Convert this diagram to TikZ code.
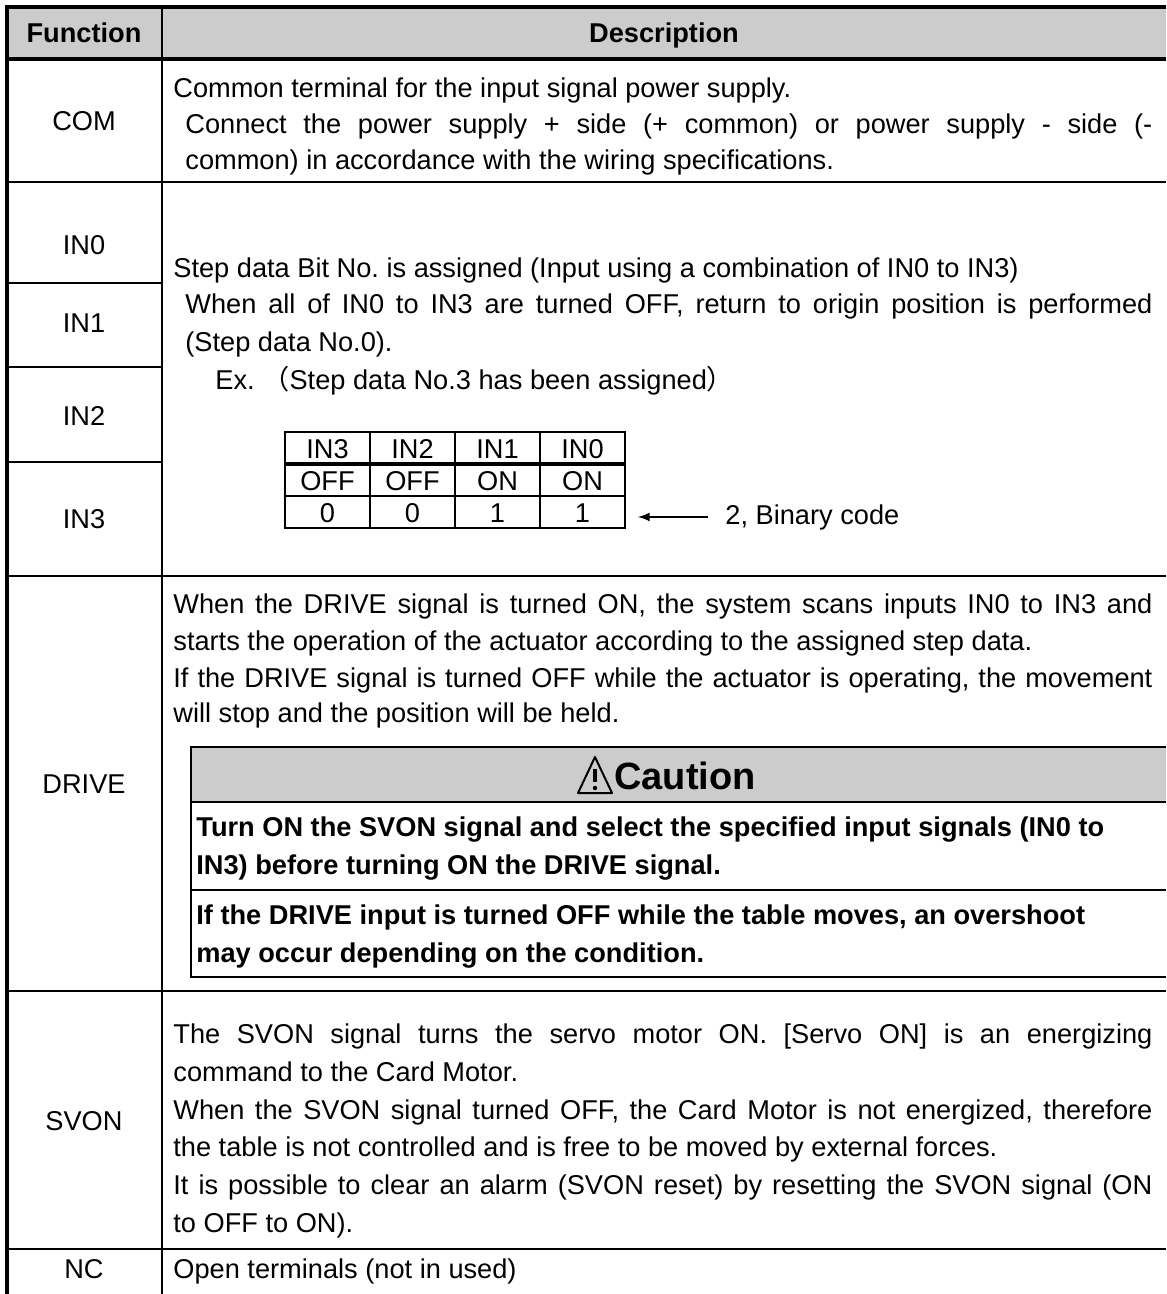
\documentclass[tikz,border=0pt]{standalone}
\usepackage{fontspec}
\setmainfont{Liberation Sans}
\newfontfamily\cjk{Noto Sans CJK JP}
\usepackage{tikz}
\usetikzlibrary{arrows}
\frenchspacing

\definecolor{hdgray}{RGB}{204,204,204}
\newlength{\fullw}\setlength{\fullw}{489.5pt}
\newlength{\indw}\setlength{\indw}{483.5pt}
\newcommand{\jline}[2]{\makebox[#1][s]{#2}}

\tikzset{
  txt/.style={anchor=base west, inner sep=0pt, font=\fontsize{13.6}{16}\selectfont},
  btxt/.style={anchor=base west, inner sep=0pt, font=\fontsize{13.6}{16}\selectfont\bfseries},
  lbl/.style={anchor=base, inner sep=0pt, font=\fontsize{13.6}{16}\selectfont},
  gridline/.style={line width=1pt},
  boldline/.style={line width=2pt}
}

\begin{document}
\begin{tikzpicture}[x=0.5pt,y=-0.5pt]
  \useasboundingbox (0,0) rectangle (1166,1294);

  % header row
  \fill[hdgray] (7,7) rectangle (1166,59);
  \node[lbl, font=\fontsize{13.6}{16}\selectfont\bfseries] (hfunc) at (84,43) {Function};
  \node[lbl, font=\fontsize{13.6}{16}\selectfont\bfseries] (hdesc) at (664,43) {Description};

  % caution box
  \fill[hdgray] (191,747) rectangle (1166,802);
  \draw[gridline] (1166,747) -- (191,747) -- (191,977) -- (1166,977);
  \draw[gridline] (191,802) -- (1166,802);
  \draw[gridline] (191,890) -- (1166,890);

  % table rules
  \draw[gridline] (162,7) -- (162,1294);
  \draw[gridline] (7,182) -- (1166,182);
  \draw[gridline] (7,283) -- (162,283);
  \draw[gridline] (7,367) -- (162,367);
  \draw[gridline] (7,462) -- (162,462);
  \draw[gridline] (7,576) -- (1166,576);
  \draw[gridline] (7,991) -- (1166,991);
  \draw[gridline] (7,1249) -- (1166,1249);
  \draw[boldline] (7,59) -- (1166,59);
  \draw[boldline] (5,7) -- (1166,7);
  \draw[boldline] (7,5) -- (7,1294);

  % function column
  \node[lbl] (com) at (84,131) {COM};
  \node[lbl] (inzero) at (84,255) {IN0};
  \node[lbl] (inone) at (84,333) {IN1};
  \node[lbl] (intwo) at (84,425) {IN2};
  \node[lbl] (inthree) at (84,528) {IN3};
  \node[lbl] (drive) at (84,793) {DRIVE};
  \node[lbl] (svon) at (84,1130) {SVON};
  \node[lbl] (nc) at (84,1278) {NC};

  % COM
  \node[txt] (comA) at (173,98) {Common terminal for the input signal power supply.};
  \node[txt] (comB) at (185,134) {\jline{\indw}{Connect the power supply + side (+ common) or power supply - side (-}};
  \node[txt] (comC) at (185,170) {common) in accordance with the wiring specifications.};

  % IN0 to IN3
  \node[txt] (stepA) at (173,278) {Step data Bit No. is assigned (Input using a combination of IN0 to IN3)};
  \node[txt] (stepB) at (185,314) {\jline{\indw}{When all of IN0 to IN3 are turned OFF, return to origin position is performed}};
  \node[txt] (stepC) at (185,351) {(Step data No.0).};
  \node[txt] (exA) at (215,389) {Ex.};
  \node[txt] (exB) at (262,389) {{\cjk （}Step data No.3 has been assigned{\cjk ）}};

  \draw[gridline] (285,432) rectangle (625,528);
  \draw[gridline] (370,432) -- (370,528);
  \draw[gridline] (455,432) -- (455,528);
  \draw[gridline] (540,432) -- (540,528);
  \draw[gridline] (285,496) -- (625,496);
  \draw[line width=1.6pt] (285,464) -- (625,464);

  \node[lbl] (bitA) at (327.5,458) {IN3};
  \node[lbl] (bitB) at (412.5,458) {IN2};
  \node[lbl] (bitC) at (497.5,458) {IN1};
  \node[lbl] (bitD) at (582.5,458) {IN0};
  \node[lbl] (stA) at (327.5,490) {OFF};
  \node[lbl] (stB) at (412.5,490) {OFF};
  \node[lbl] (stC) at (497.5,490) {ON};
  \node[lbl] (stD) at (582.5,490) {ON};
  \node[lbl] (valA) at (327.5,522) {0};
  \node[lbl] (valB) at (412.5,522) {0};
  \node[lbl] (valC) at (497.5,522) {1};
  \node[lbl] (valD) at (582.5,522) {1};

  \node[txt] (bincode) at (725,524) {2, Binary code};
  \coordinate (bintip) at (638,0);
  \draw[gridline,-latex] ([xshift=-8.5pt]bincode.west) -- (bintip |- bincode.west);

  % DRIVE
  \node[txt] (drA) at (173,613) {\jline{\fullw}{When the DRIVE signal is turned ON, the system scans inputs IN0 to IN3 and}};
  \node[txt] (drB) at (173,650) {starts the operation of the actuator according to the assigned step data.};
  \node[txt] (drC) at (173,687) {\jline{\fullw}{If the DRIVE signal is turned OFF while the actuator is operating, the movement}};
  \node[txt] (drD) at (173,722) {will stop and the position will be held.};

  \draw[gridline, line join=round] (578,793) -- (595,757) -- (612,793) -- cycle;
  \draw[line width=1.8pt] (595,769) -- (595,782);
  \fill (595,788) circle (1.1pt);
  \node[anchor=base west, inner sep=0pt, font=\fontsize{19}{22}\selectfont\bfseries] (caution) at (614,789) {Caution};

  \node[btxt] (cauA) at (196,836) {Turn ON the SVON signal and select the specified input signals (IN0 to};
  \node[btxt] (cauB) at (196,874) {IN3) before turning ON the DRIVE signal.};
  \node[btxt] (cauC) at (196,924) {If the DRIVE input is turned OFF while the table moves, an overshoot};
  \node[btxt] (cauD) at (196,962) {may occur depending on the condition.};

  % SVON
  \node[txt] (svA) at (173,1043) {\jline{\fullw}{The SVON signal turns the servo motor ON. [Servo ON] is an energizing}};
  \node[txt] (svB) at (173,1081) {command to the Card Motor.};
  \node[txt] (svC) at (173,1119) {\jline{\fullw}{When the SVON signal turned OFF, the Card Motor is not energized, therefore}};
  \node[txt] (svD) at (173,1156) {the table is not controlled and is free to be moved by external forces.};
  \node[txt] (svE) at (173,1194) {\jline{\fullw}{It is possible to clear an alarm (SVON reset) by resetting the SVON signal (ON}};
  \node[txt] (svF) at (173,1232) {to OFF to ON).};

  % NC
  \node[txt] (ncA) at (173,1278) {Open terminals (not in used)};

\end{tikzpicture}
\end{document}
